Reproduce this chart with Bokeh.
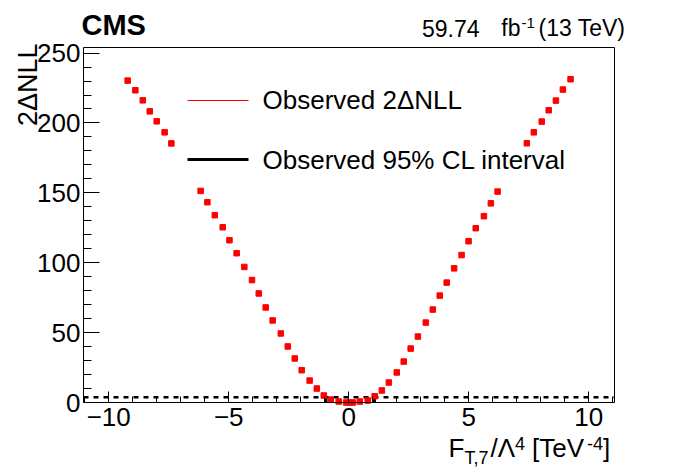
from math import pi
from bokeh.plotting import figure
from bokeh.models import (Label, Arrow, FixedTicker, Range1d, LinearAxis,
                          CustomJSTickFormatter)
from bokeh.embed import file_html
from bokeh.resources import INLINE

# ---- data ----
coef = [-9.21, -8.89, -8.58, -8.29, -8.00, -7.67, -7.39,
        -6.17, -5.89, -5.58, -5.25, -4.97, -4.67, -4.35, -4.03, -3.75,
        -3.46, -3.17, -2.83, -2.54, -2.25, -1.96, -1.63, -1.33, -1.04,
        -0.75, -0.42, -0.11, 0.04, 0.17, 0.46, 0.79, 1.08, 1.38, 1.67,
        2.00, 2.29, 2.58, 2.88, 3.21, 3.50, 3.79, 4.08, 4.39, 4.70, 4.99,
        5.29, 5.63, 5.92, 6.20,
        7.42, 7.71, 8.04, 8.33, 8.63, 8.92, 9.24]
two_dnll = [230.3, 223.4, 216.2, 208.3, 201.2, 193.3, 185.4,
            151.4, 143.3, 134.0, 125.4, 116.1, 106.8, 97.0, 87.6, 78.0,
            68.0, 58.7, 49.4, 40.1, 31.5, 23.1, 15.7, 10.0, 5.0,
            2.1, 0.7, 0.0, 0.0, 0.0, 0.7, 1.4, 4.5, 8.6, 14.3,
            21.5, 29.3, 38.6, 47.2, 57.2, 66.5, 76.5, 85.8, 96.0, 105.5, 115.4,
            124.7, 133.3, 142.5, 150.9,
            185.5, 193.3, 201.0, 209.1, 216.0, 223.9, 231.3]
cl95 = 3.84
interval = [-0.95, 1.07]
x_major = [-10, -5, 0, 5, 10]
x_minor = list(range(-11, 12))
y_major = [0, 50, 100, 150, 200, 250]
y_minor = list(range(0, 255, 10))

# axis limits of the drawn box
XMIN, XMAX = -11.05, 11.07
YMIN, YMAX = 0.0, 254.0

FONT = "Liberation Sans"
W, H = 698, 473
# plotting box in canvas pixels
BL, BR, BT, BB = 83, 614, 47, 402

# the frame is the whole canvas; ranges chosen so the box sits at BL..BR, BT..BB
kx = (XMAX - XMIN) / (BR - BL)
ky = (YMAX - YMIN) / (BB - BT)
x_range = Range1d(XMIN - BL * kx, XMAX + (W - BR) * kx)
y_range = Range1d(YMIN - (H - BB) * ky, YMAX + BT * ky)

p = figure(width=W, height=H, output_backend="svg", toolbar_location=None,
           x_range=x_range, y_range=y_range, min_border=0, title=None,
           x_axis_type=None, y_axis_type=None)
p.background_fill_color = "white"
p.border_fill_color = "white"
p.outline_line_color = None
p.xgrid.visible = False
p.ygrid.visible = False

fmt = CustomJSTickFormatter(code="return tick < 0 ? '\u2212' + Math.abs(tick) : String(tick);")


def style_axis(ax, maj, mnr, tin, mtin, fs, standoff):
    ax.ticker = FixedTicker(ticks=maj, minor_ticks=mnr)
    ax.formatter = fmt
    ax.major_tick_in = tin
    ax.major_tick_out = 0
    ax.minor_tick_in = mtin
    ax.minor_tick_out = 0
    ax.axis_line_color = "black"
    ax.axis_line_width = 1
    ax.major_tick_line_color = "black"
    ax.minor_tick_line_color = "black"
    ax.major_label_text_font = FONT
    ax.major_label_text_font_size = fs
    ax.major_label_text_color = "black"
    ax.major_label_standoff = standoff


xaxis = LinearAxis(fixed_location=YMIN, bounds=(XMIN, XMAX))
style_axis(xaxis, x_major, x_minor, 11, 6, "26px", 5)
p.add_layout(xaxis, "below")

yaxis = LinearAxis(fixed_location=XMIN, bounds=(YMIN, YMAX))
style_axis(yaxis, y_major, y_minor, 16, 8, "26px", 3)
p.add_layout(yaxis, "left")

# top and right edges of the box (axes without ticks)
for side, loc, bnd in (("above", YMAX, (XMIN, XMAX)), ("right", XMAX, (YMIN, YMAX))):
    edge = LinearAxis(fixed_location=loc, bounds=bnd, ticker=FixedTicker(ticks=[]))
    edge.axis_line_color = "black"
    edge.major_tick_line_color = None
    edge.minor_tick_line_color = None
    edge.major_label_text_font_size = "0px"
    p.add_layout(edge, side)

# 95% CL threshold across the box
p.segment(x0=[XMIN], y0=[cl95], x1=[XMAX], y1=[cl95], line_color="black",
          line_width=2.5, line_dash="5 5")
# interval boundaries
p.segment(x0=interval, y0=[0, 0], x1=interval, y1=[cl95, cl95],
          line_color="black", line_width=3)
# scan points
p.scatter(coef, two_dnll, marker="square", size=5.5, color="red")


# ---- texts (canvas px, converted to frame screen units with y upwards) ----
SHIFT = 0.38   # empirical baseline correction, in em


def add_text(text, px, py, size, align="left", style="normal", angle=0):
    d = SHIFT * size
    if angle:
        px = px - d
    else:
        py = py - d
    p.add_layout(Label(x=px, y=H - py, x_units="screen", y_units="screen",
                       text=text, text_font=FONT, text_font_size=f"{size}px",
                       text_font_style=style, text_align=align, angle=angle,
                       text_baseline="alphabetic", text_color="black"))


# legend
p.add_layout(Arrow(end=None, x_start=187, y_start=H - 100, x_end=248,
                   y_end=H - 100, start_units="screen", end_units="screen",
                   line_color="red", line_width=1))
p.add_layout(Arrow(end=None, x_start=187, y_start=H - 159, x_end=248,
                   y_end=H - 159, start_units="screen", end_units="screen",
                   line_color="black", line_width=3))
add_text("Observed 2\u0394NLL", 262, 109.5, 26)
add_text("Observed 95% CL interval", 262, 169, 26)

# header
add_text("CMS", 81, 36, 29, style="bold")
add_text("59.74", 421.5, 36.5, 23)
add_text("fb", 520, 36.5, 23, align="right")
add_text("-1", 521, 28.5, 15)
add_text("(13 TeV)", 538, 36.5, 23)

# y title
add_text("2\u0394NLL", 38, 43, 27, align="right", angle=pi / 2)

# x title
add_text("F", 448, 457, 26)
add_text("T,7", 464, 464, 18)
add_text("/\u039b", 490, 457, 26)
add_text("4", 514.5, 450, 18)
add_text("[TeV", 531.5, 457, 26)
add_text("-4", 586.5, 450, 18)
add_text("]", 602.5, 457, 26)

open("out.html", "w").write(file_html(p, INLINE))
